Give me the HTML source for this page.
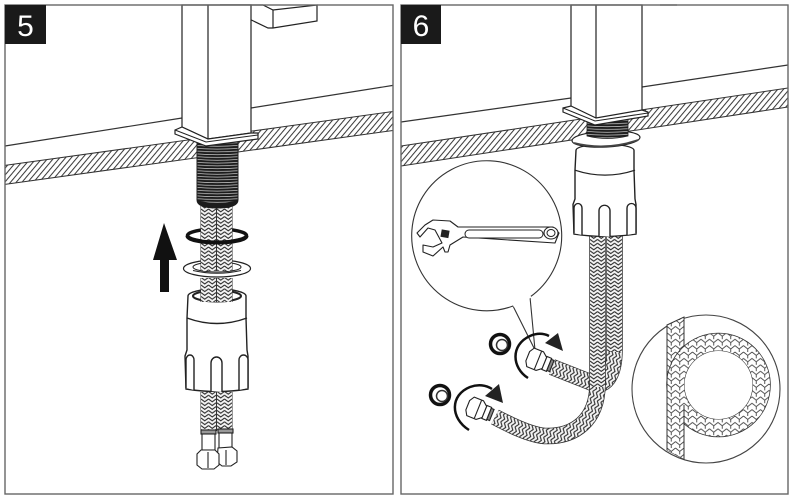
<!DOCTYPE html>
<html><head><meta charset="utf-8"><style>
html,body{margin:0;padding:0;background:#fff;width:794px;height:501px;overflow:hidden}
svg{display:block}
text{font-family:"Liberation Sans",sans-serif}
</style></head><body>
<svg width="794" height="501" viewBox="0 0 794 501" xmlns="http://www.w3.org/2000/svg">
<defs>
<pattern id="hatch" patternUnits="userSpaceOnUse" width="4.4" height="4.4" patternTransform="rotate(40)"><rect width="4.4" height="4.4" fill="#fff"/><line x1="2" y1="0" x2="2" y2="4.4" stroke="#333" stroke-width="1"/></pattern>
<pattern id="thr" patternUnits="userSpaceOnUse" x="197" y="0" width="41" height="2.8"><rect width="41" height="2.8" fill="#d8d8d8"/><path d="M0 .2Q20 1.8 41 .2V2.3Q20 3.9 0 2.3Z" fill="#1c1c1c"/><path d="M0 -2.6Q20 -1 41 -2.6V-.5Q20 1.100 0 -.5Z" fill="#1c1c1c"/></pattern>
<pattern id="bv" patternUnits="userSpaceOnUse" width="7.5" height="3.8"><rect width="7.5" height="3.8" fill="#f4f4f4"/><path d="M0 0L3.75 2.800L7.5 0M0 3.800L3.75 6.600L7.5 3.800M0 -3.800L3.75 -1L7.5 -3.800" fill="none" stroke="#2c2c2c" stroke-width="1.100"/></pattern>
<pattern id="bv1" href="#bv" patternTransform="translate(201 0)"/>
<pattern id="bv2" href="#bv" patternTransform="translate(217 0)"/>
<pattern id="bv3" href="#bv" patternTransform="translate(590 0)"/>
<pattern id="bv4" href="#bv" patternTransform="translate(607 0)"/>
<pattern id="bh1" href="#bv" patternTransform="rotate(-70) translate(-405 345)"/>
<pattern id="big" patternUnits="userSpaceOnUse" width="8.5" height="6.4" patternTransform="translate(667 0)"><rect width="8.5" height="6.4" fill="#fff"/><path d="M0 0L4.25 3.400L8.5 0M0 6.400L4.25 9.800L8.5 6.400M0 -6.400L4.25 -3L8.5 -6.400M4.25 3.400V6.400" fill="none" stroke="#444" stroke-width=".9"/></pattern>
<clipPath id="lowerstrip"><rect x="660" y="388" width="30" height="80"/></clipPath>
<g id="nut">
<path d="M188 296A29 7 0 0 1 246 296L246 318L247 350L248 356L248 389Q217 394 186 389L185 356L187 350L187 318Z" fill="#fff" stroke="#222" stroke-width="1.400"/>
<path d="M187 318Q217 329 247 318" fill="none" stroke="#222" stroke-width="1.400"/>
<path d="M186 388V360A4 5 0 0 1 194 360V390M211 391V363A5.500 6 0 0 1 222 363V392M239 390V360A4.500 5 0 0 1 248 360V388" fill="#fff" stroke="#222" stroke-width="1.400"/>
</g>
</defs>

<rect width="794" height="501" fill="#fff"/>

<!-- PANEL 5 -->
<path d="M5 146L182 118M251 108L393 85.400" stroke="#333" stroke-width="1.200" fill="none"/>
<polygon points="5,165.400 393,111.500 393,130.500 5,184.400" fill="url(#hatch)"/>
<path d="M5 165.400L393 111.500M5 184.400L393 130.500" stroke="#333" stroke-width="1" fill="none"/>
<!-- spout -->
<path d="M263 5L273 10L317 5V21L273 28L268 28L220 5Z" fill="#fff" stroke="#222" stroke-width="1.200"/>
<path d="M273 10V28" stroke="#222" stroke-width="1.200"/>
<!-- washers behind hoses -->
<ellipse cx="217" cy="235.500" rx="29.500" ry="6.500" fill="#fff" stroke="#111" stroke-width="3.500"/>
<ellipse cx="217" cy="268.500" rx="33.500" ry="8.500" fill="#fff" stroke="#222" stroke-width="1.200"/>
<ellipse cx="217" cy="267" rx="24" ry="5" fill="#fff" stroke="#222" stroke-width="1"/>
<!-- nut -->
<use href="#nut"/>
<ellipse cx="217" cy="296" rx="24" ry="5.500" fill="#fff" stroke="#222" stroke-width="2"/>
<!-- braided hoses -->
<rect x="200.500" y="205" width="16" height="66" fill="#333"/><rect x="201" y="205" width="15" height="66" fill="url(#bv1)"/>
<rect x="216.500" y="205" width="16" height="66" fill="#333"/><rect x="217" y="205" width="15" height="66" fill="url(#bv2)"/>
<rect x="200.500" y="278" width="16" height="24" fill="#333"/><rect x="201" y="278" width="15" height="24" fill="url(#bv1)"/>
<rect x="216.500" y="278" width="16" height="24" fill="#333"/><rect x="217" y="278" width="15" height="24" fill="url(#bv2)"/>
<!-- washer fronts -->
<path d="M187.500 236A29.500 6.500 0 0 0 246.500 236" fill="none" stroke="#111" stroke-width="4"/>
<path d="M193 270.500Q217 276 241 270.500" fill="none" stroke="#222" stroke-width="1"/>
<!-- threads -->
<path d="M197 142H238V200Q238 208 217 208Q197 208 197 200Z" fill="url(#thr)" stroke="#222" stroke-width="1"/>
<path d="M197 200Q217 206 238 200V201Q238 208 217 208Q197 208 197 201Z" fill="#1c1c1c"/>
<!-- faucet -->
<polygon points="182,5 251,5 251,133 208,139 182,127" fill="#fff" stroke="#222" stroke-width="1.200"/>
<path d="M208 5V139" stroke="#222" stroke-width="1.200"/>
<polygon points="175,130 182,127 208,139 251,133 258,133 258,139 206,146 175,134" fill="#fff" stroke="#222" stroke-width="1.200"/>
<path d="M175 130L206 142L258 135" stroke="#222" stroke-width="1" fill="none"/>
<!-- lower hoses -->
<rect x="200.500" y="392" width="16" height="39" fill="#333"/><rect x="201" y="392" width="15" height="39" fill="url(#bv1)"/>
<rect x="216.500" y="392" width="16" height="39" fill="#333"/><rect x="217" y="392" width="15" height="39" fill="url(#bv2)"/>
<!-- fittings -->
<g fill="#fff" stroke="#222" stroke-width="1.100">
<rect x="218" y="429" width="15" height="4" fill="#999"/>
<rect x="219" y="433" width="13" height="15"/>
<path d="M218 448L232 447L237 451V462L231 466H222L217 462Z"/>
<path d="M226 450V465"/>
<rect x="201" y="430" width="15" height="4" fill="#999"/>
<rect x="202" y="434" width="13" height="16"/>
<path d="M201 450L215 450L219 454V465L214 469H202L197 465V454Z"/>
<path d="M208 452V468"/>
</g>
<!-- arrow -->
<polygon points="164,223 177,260 169,260 169,292 160,292 160,260 153,260" fill="#111"/>

<!-- PANEL 6 -->
<path d="M401 122L571 98M642 87L788 65" stroke="#333" stroke-width="1.200" fill="none"/>
<polygon points="401,146 788,88 788,107 401,166" fill="url(#hatch)"/>
<path d="M401 146L788 88M401 166L788 107" stroke="#333" stroke-width="1" fill="none"/>
<path d="M660 5H677" stroke="#999" stroke-width="1.500"/>

<!-- right hose -->
<path d="M614.500 234V350C614.500 375 605 390 590 382L552 367" fill="none" stroke="#333" stroke-width="16.500"/>
<path d="M614.500 350C614.500 375 605 390 590 382L552 367" fill="none" stroke="url(#bh1)" stroke-width="15"/>
<rect x="607" y="234" width="15" height="118" fill="url(#bv4)"/>
<!-- left hose -->
<path d="M597.500 234V385C597 420 575 437 545 436C530 435 510 425 495 417" fill="none" stroke="#333" stroke-width="16.500"/>
<path d="M597.500 385C597 420 575 437 545 436C530 435 510 425 495 417" fill="none" stroke="url(#bh1)" stroke-width="15"/>
<rect x="590" y="234" width="15" height="153" fill="url(#bv3)"/>
<!-- nut 6 -->
<use href="#nut" transform="translate(605 145) scale(1 .9) translate(-217 -290)"/>
<!-- flange -->
<ellipse cx="606" cy="139" rx="34" ry="8" fill="#fff" stroke="#222" stroke-width="1.200" transform="rotate(-3 606 139)"/>
<path d="M574 143Q606 151 638 140" fill="none" stroke="#444" stroke-width="1.800"/>
<!-- threads -->
<path d="M197 118H238V136Q217 141 197 136Z" transform="translate(390 0)" fill="url(#thr)" stroke="#222" stroke-width=".8"/>
<!-- faucet -->
<polygon points="571,5 642,5 642,111 596,119 571,107" fill="#fff" stroke="#222" stroke-width="1.200"/>
<path d="M596 5V119" stroke="#222" stroke-width="1.200"/>
<polygon points="563,108 571,106 596,118 642,110 648,112 648,116 595,125 563,112" fill="#fff" stroke="#222" stroke-width="1.200"/>
<path d="M563 108L595 121L648 113" stroke="#222" stroke-width="1" fill="none"/>

<!-- lens -->
<path d="M530 297A75 75 0 1 0 513 306L535 350Z" fill="#fff" stroke="#333" stroke-width="1.100" stroke-linejoin="round"/>
<path d="M531 296.500L513.500 306.500" stroke="#fff" stroke-width="2"/>
<!-- wrench -->
<path d="M433 220L450 221L458 227L553 227L559 233L555 243L463 237L450 245L448 252L445 252L443 247L433 256L423 252L423 245L433 247L442 243L435 230L428 228L420 237L417 233L425 225Z" fill="#fff" stroke="#222" stroke-width="1.100" stroke-linejoin="round"/>
<rect x="465" y="230" width="78" height="8" rx="4" fill="#fff" stroke="#222" stroke-width="1"/>
<ellipse cx="551" cy="233" rx="7" ry="6" fill="#fff" stroke="#222" stroke-width="1.100"/>
<ellipse cx="551" cy="233" rx="4" ry="3.500" fill="#fff" stroke="#222" stroke-width="1"/>
<rect x="441" y="230" width="8" height="7.500" fill="#222" transform="rotate(10 445 234)"/>

<!-- nipples -->
<circle cx="500" cy="344" r="9.500" fill="#fff" stroke="#111" stroke-width="3.500"/>
<circle cx="502" cy="345" r="5.500" fill="#fff" stroke="#333" stroke-width="1.500"/>
<circle cx="440" cy="395" r="9.500" fill="#fff" stroke="#111" stroke-width="3.500"/>
<circle cx="442" cy="396" r="5.500" fill="#fff" stroke="#333" stroke-width="1.500"/>

<!-- rotation arrows -->
<path d="M528 378C512 368 510 345 530 336C537 333 543 333 549 336" fill="none" stroke="#111" stroke-width="2.500"/>
<polygon points="558,333 563,351 545,343" fill="#222"/>
<path d="M469 430C450 418 450 395 470 387C478 384 486 385 492 389" fill="none" stroke="#111" stroke-width="2.500"/>
<polygon points="499,384 503,403 485,396" fill="#222"/>

<!-- fittings 6 -->
<g fill="#fff" stroke="#222" stroke-width="1.100">
<g transform="translate(537 360) rotate(22)">
<path d="M-7 -10L3 -10L8 -6V6L3 10L-7 10L-10 5V-5Z"/>
<path d="M1 -9.500V9.500"/>
<rect x="8" y="-7" width="5" height="14"/>
<rect x="13" y="-6" width="3" height="12" fill="#888"/>
</g>
<g transform="translate(477 409) rotate(22)">
<path d="M-7 -10L3 -10L8 -6V6L3 10L-7 10L-10 5V-5Z"/>
<path d="M1 -9.500V9.500"/>
<rect x="8" y="-7" width="5" height="14"/>
<rect x="13" y="-6" width="3" height="12" fill="#888"/>
</g>
</g>

<!-- detail circle -->
<circle cx="706" cy="389" r="74" fill="#fff" stroke="#444" stroke-width="1.100"/>
<polygon points="667,325 684,317 684,459 667,450" fill="url(#big)" stroke="#333" stroke-width="1"/>
<circle cx="718.500" cy="385" r="43" fill="none" stroke="#333" stroke-width="18.500"/>
<circle cx="718.500" cy="385" r="43" fill="none" stroke="url(#big)" stroke-width="17"/>
<circle cx="718.500" cy="385" r="34" fill="#fff"/>
<polygon points="667,380 684,380 684,459 667,450" fill="url(#big)" clip-path="url(#lowerstrip)"/>
<path d="M667 325V450M684 338V317M684 405V459" stroke="#333" stroke-width="1" fill="none"/>

<!-- frames -->
<rect x="5" y="5" width="388" height="489" fill="none" stroke="#666" stroke-width="1.400"/>
<rect x="401" y="5" width="387" height="489" fill="none" stroke="#666" stroke-width="1.400"/>
<!-- badges -->
<rect x="5" y="5" width="41" height="39" fill="#1a1a1a"/>
<rect x="401" y="5" width="40" height="39" fill="#1a1a1a"/>
<text x="25.500" y="36" font-size="30" fill="#fff" text-anchor="middle">5</text>
<text x="421" y="36" font-size="30" fill="#fff" text-anchor="middle">6</text>
</svg>
</body></html>
